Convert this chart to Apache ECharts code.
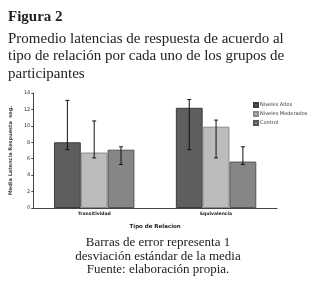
<!DOCTYPE html>
<html>
<head>
<meta charset="utf-8">
<script src="https://cdn.jsdelivr.net/npm/echarts@6/dist/echarts.min.js"></script>
<style>
  html, body { margin: 0; padding: 0; background: #fff; }
  #main { width: 320px; height: 287px; }
</style>
</head>
<body>
<div id="main"></div>
<script>
var categories = ['Transitividad', 'Equivalencia'];
var groups = ['Niveles Altos', 'Niveles Moderados', 'Control'];
var altos = [8.0, 12.2];
var moderados = [6.75, 9.9];
var control = [7.1, 5.65];
// extremos de las barras de error [inferior, superior]
var errAltos = [[7.1, 13.1], [7.1, 13.2]];
var errModerados = [[6.1, 10.6], [6.1, 10.7]];
var errControl = [[5.3, 7.45], [5.3, 7.45]];
var yTicks = [0, 2, 4, 6, 8, 10, 12, 14];

var colors = ['#5e5e5e', '#bcbcbc', '#868686'];
var borders = ['#3c3c3c', '#8a8a8a', '#555555'];
var serif = '"Liberation Serif", "DejaVu Serif", serif';
var sans = '"DejaVu Sans", "Liberation Sans", sans-serif';

var chart = echarts.init(document.getElementById('main'));

function errSeries(err, idx) {
	return {
		type: 'custom',
		name: groups[idx] + ' err',
		z: 10,
		silent: true,
		data: err.map(function (e, i) { return [i, e[0], e[1]]; }),
		renderItem: function (params, api) {
			var band = api.size([1, 0])[0];
			var off = (idx - 1) * band * 0.22;
			var lo = api.coord([api.value(0), api.value(1)]);
			var hi = api.coord([api.value(0), api.value(2)]);
			var x = lo[0] + off;
			var st = { stroke: '#111', lineWidth: 1 };
			return {
				type: 'group',
				children: [
					{ type: 'line', shape: { x1: x, y1: lo[1], x2: x, y2: hi[1] }, style: st },
					{ type: 'line', shape: { x1: x - 2, y1: lo[1], x2: x + 2, y2: lo[1] }, style: st },
					{ type: 'line', shape: { x1: x - 2, y1: hi[1], x2: x + 2, y2: hi[1] }, style: st }
				]
			};
		}
	};
}

function barSeries(data, idx) {
	return {
		type: 'bar',
		name: groups[idx],
		data: data,
		barGap: '0%',
		barCategoryGap: '34%',
		itemStyle: { color: colors[idx], borderColor: borders[idx], borderWidth: 1 }
	};
}

var option = {
	animation: false,
	title: [
		{ text: 'Figura 2', left: 3, top: 5,
		  textStyle: { fontFamily: serif, fontSize: 15, fontWeight: 'bold', color: '#222' } },
		{ text: 'Promedio latencias de respuesta de acuerdo al\ntipo de relación por cada uno de los grupos de\nparticipantes',
		  left: 3, top: 25,
		  textStyle: { fontFamily: serif, fontSize: 15, fontWeight: 'normal', color: '#222', lineHeight: 17.5 } },
		{ text: 'Barras de error representa 1\ndesviación estándar de la media\nFuente: elaboración propia.',
		  left: 153, textAlign: 'center', top: 231,
		  textStyle: { fontFamily: serif, fontSize: 13, fontWeight: 'normal', color: '#222', lineHeight: 13.5 } }
	],
	legend: {
		data: groups,
		orient: 'vertical',
		left: 248,
		top: 97,
		itemWidth: 4,
		itemHeight: 4,
		itemGap: 3,
		icon: 'rect',
		textStyle: { fontFamily: sans, fontSize: 5, lineHeight: 5.5, color: '#333', padding: [0, 0, 0, -3] }
	},
	grid: { left: 33, right: 43, top: 93, bottom: 79 },
	xAxis: {
		type: 'category',
		data: categories,
		name: 'Tipo de Relacion',
		nameLocation: 'middle',
		nameGap: 16,
		nameTextStyle: { fontFamily: sans, fontSize: 5.5, fontWeight: 'bold', color: '#222' },
		axisLine: { lineStyle: { color: '#444', width: 1 } },
		axisTick: { show: false },
		axisLabel: { fontFamily: sans, fontSize: 4.5, fontWeight: 'bold', color: '#222', margin: 3 }
	},
	yAxis: {
		type: 'value',
		min: yTicks[0],
		max: yTicks[yTicks.length - 1],
		interval: 2,
		name: 'Media Latencia Respuesta  seg.',
		nameLocation: 'middle',
		nameGap: 13,
		nameTextStyle: { fontFamily: sans, fontSize: 5, fontWeight: 'bold', color: '#444' },
		axisLine: { show: true, lineStyle: { color: '#444', width: 1 } },
		axisTick: { show: true, length: 2, lineStyle: { color: '#444' } },
		splitLine: { show: false },
		axisLabel: { fontFamily: sans, fontSize: 5, color: '#333', margin: 3 }
	},
	series: [
		barSeries(altos, 0),
		barSeries(moderados, 1),
		barSeries(control, 2),
		errSeries(errAltos, 0),
		errSeries(errModerados, 1),
		errSeries(errControl, 2)
	]
};

chart.setOption(option);
</script>
</body>
</html>
